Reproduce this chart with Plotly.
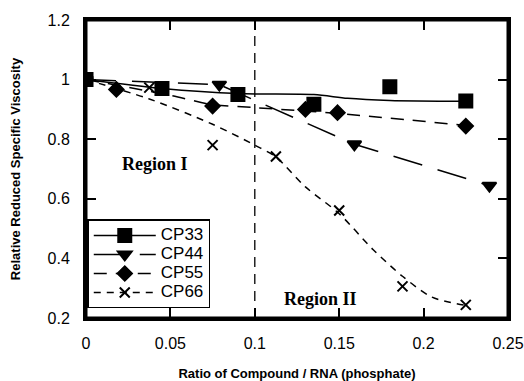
import plotly.graph_objects as go

# ---- data ----
x33 = [0, 0.045, 0.09, 0.135, 0.18, 0.225]
y33 = [1.0, 0.97, 0.95, 0.917, 0.976, 0.928]
fit33_x = [0, 0.045, 0.09, 0.135, 0.155, 0.18, 0.225]
fit33_y = [1.0, 0.97, 0.953, 0.95, 0.937, 0.93, 0.927]

x44 = [0, 0.079, 0.159, 0.239]
y44 = [1.0, 0.983, 0.783, 0.644]

x55 = [0, 0.018, 0.075, 0.13, 0.149, 0.225]
y55 = [1.0, 0.967, 0.911, 0.900, 0.889, 0.844]
fit55_x = [0, 0.05, 0.075, 0.1, 0.15, 0.225]
fit55_y = [1.0, 0.947, 0.916, 0.906, 0.886, 0.846]

x66 = [0, 0.0375, 0.075, 0.1125, 0.15, 0.1875, 0.225]
y66 = [1.0, 0.973, 0.78, 0.742, 0.561, 0.306, 0.244]
fit66_x = [0, 0.0375, 0.075, 0.1, 0.1125, 0.13, 0.15, 0.17, 0.1875, 0.205, 0.225]
fit66_y = [1.0, 0.935, 0.85, 0.78, 0.74, 0.64, 0.55, 0.43, 0.34, 0.27, 0.242]

names = ["CP33", "CP44", "CP55", "CP66"]
region_labels = ["Region I", "Region II"]
boundary_x = 0.1
x_range = [0, 0.25]
y_range = [0.2, 1.2]
x_ticks = [0, 0.05, 0.1, 0.15, 0.2, 0.25]
x_ticktext = ["0", "0.05", "0.1", "0.15", "0.2", "0.25"]
y_ticks = [0.2, 0.4, 0.6, 0.8, 1.0, 1.2]
y_ticktext = ["0.2", "0.4", "0.6", "0.8", "1", "1.2"]

FONT = "Liberation Sans, Arial, sans-serif"
SERIF = "Liberation Serif, Times New Roman, serif"

styles = {
    "CP33": dict(dash="solid", symbol="square", size=13),
    "CP44": dict(dash="30px,16px", symbol="triangle-down", size=12),
    "CP55": dict(dash="13px,9px", symbol="diamond", size=11),
    "CP66": dict(dash="7px,6px", symbol="x-thin-open", size=10),
}

fig = go.Figure()


def legend_name(n):
    return "<span style='font-size:17px'>" + n + "</span>"


def add_series(name, px, py, fx=None, fy=None, shape="linear"):
    st = styles[name]
    mk = dict(symbol=st["symbol"], size=st["size"], color="black",
              line=dict(color="black", width=2))
    ln = dict(color="black", width=1.5, dash=st["dash"])
    if fx is not None:
        fig.add_trace(go.Scatter(x=fx, y=fy, mode="lines", line=dict(ln, shape=shape, smoothing=0.8),
                                 showlegend=False, hoverinfo="skip"))
        fig.add_trace(go.Scatter(x=px, y=py, mode="markers", marker=mk, showlegend=False, name=name))
        fig.add_trace(go.Scatter(x=[None], y=[None], mode="lines+markers", line=ln, marker=mk,
                                 name=legend_name(name), showlegend=True))
    else:
        fig.add_trace(go.Scatter(x=px, y=py, mode="lines+markers", line=ln, marker=mk,
                                 name=legend_name(name), showlegend=True))


add_series("CP33", x33, y33, fit33_x, fit33_y, "spline")
add_series("CP44", x44, y44)
add_series("CP55", x55, y55, fit55_x, fit55_y, "spline")
add_series("CP66", x66, y66, fit66_x, fit66_y, "spline")

# boundary between the two regions
fig.add_shape(type="line", x0=boundary_x, x1=boundary_x, y0=y_range[0], y1=y_range[1],
              xref="x", yref="y",
              line=dict(color="black", width=1.3, dash="10px,7px"), layer="above")

# plot frame as four line shapes along the axis ranges
frame = dict(color="black", width=3)
for xv in x_range:
    fig.add_shape(type="line", x0=xv, x1=xv, y0=y_range[0], y1=y_range[1],
                  xref="x", yref="y", line=frame, layer="above")
for yv in y_range:
    fig.add_shape(type="line", x0=x_range[0], x1=x_range[1], y0=yv, y1=yv,
                  xref="x", yref="y", line=frame, layer="above")

fig.add_annotation(x=0.041, y=0.717, text="<b>" + region_labels[0] + "</b>", showarrow=False,
                   font=dict(family=SERIF, size=18, color="black"))
fig.add_annotation(x=0.139, y=0.265, text="<b>" + region_labels[1] + "</b>", showarrow=False,
                   font=dict(family=SERIF, size=18, color="black"))

axis_common = dict(showgrid=False, zeroline=False, showline=True, linecolor="black", linewidth=3,
                   mirror="ticks", ticks="inside", ticklen=10, tickwidth=2,
                   tickcolor="black", tickfont=dict(family=FONT, size=16, color="black"))

fig.update_xaxes(range=x_range, tickvals=x_ticks, ticktext=x_ticktext,
                 title=dict(text="<b>Ratio of Compound / RNA (phosphate)</b>",
                            font=dict(family=FONT, size=13, color="black"), standoff=20),
                 ticklabelstandoff=9, **axis_common)
fig.update_yaxes(range=y_range, tickvals=y_ticks, ticktext=y_ticktext,
                 title=dict(text="<b>Relative Reduced Specific Viscosity</b>",
                            font=dict(family=FONT, size=13, color="black"), standoff=24),
                 ticklabelstandoff=10, **axis_common)

fig.update_layout(
    width=524, height=381,
    margin=dict(l=86, r=16, t=20, b=63, autoexpand=False),
    paper_bgcolor="white", plot_bgcolor="white",
    font=dict(family=FONT, color="black"),
    showlegend=True,
    legend=dict(x=0.003, y=0.032, xanchor="left", yanchor="bottom",
                bgcolor="white", bordercolor="black", borderwidth=1.5,
                font=dict(family=FONT, size=12, color="black"),
                itemwidth=62, tracegroupgap=0),
)

fig.write_html("out.html")
